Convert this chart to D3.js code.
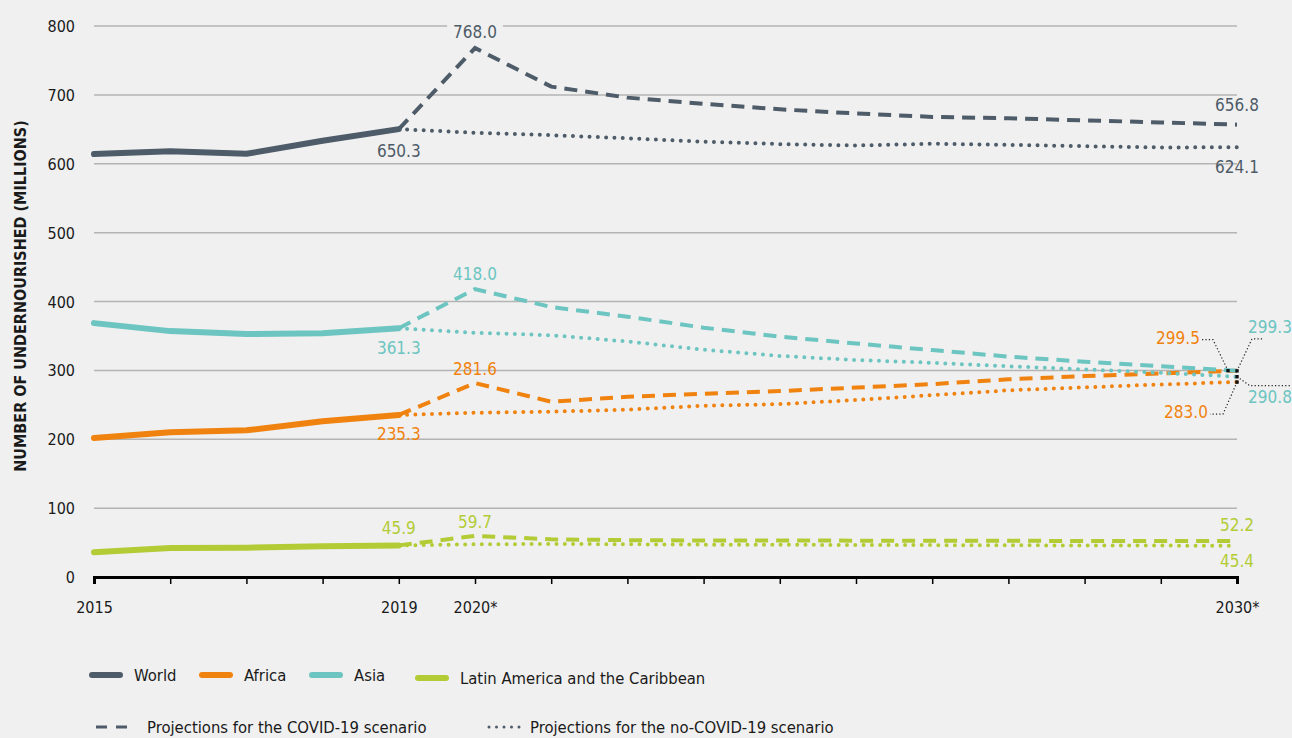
<!DOCTYPE html>
<html lang="en">
<head>
<meta charset="utf-8">
<script src="https://d3js.org/d3.v7.min.js"></script>
<style>
  body { margin: 0; background: #f0f0f0; }
  svg { display: block; }
  text { font-family: "Liberation Sans Narrow", "DejaVu Sans Condensed", "Roboto", sans-serif; }
</style>
</head>
<body>
<svg width="1292" height="738"></svg>
<script>
// ---- data ----
var years = [2015, 2016, 2017, 2018, 2019, 2020, 2021, 2022, 2023, 2024, 2025, 2026, 2027, 2028, 2029, 2030];
var histYears = [2015, 2016, 2017, 2018, 2019];
var projYears = [2019, 2020, 2021, 2022, 2023, 2024, 2025, 2026, 2027, 2028, 2029, 2030];
var yTicks = [0, 100, 200, 300, 400, 500, 600, 700, 800];
var xLabels = { 2015: "2015", 2019: "2019", 2020: "2020*", 2030: "2030*" };

var worldHist = [614, 618, 614.4, 633.3, 650.3];
var worldCovid = [650.3, 768.0, 712, 696, 687, 679, 673, 668, 666, 663, 660, 656.8];
var worldNoCovid = [650.3, 645, 641.5, 637, 632, 628.5, 626.5, 629, 627.5, 625.5, 623.6, 624.1];

var africaHist = [201.7, 210, 213, 226, 235.3];
var africaCovid = [235.3, 281.6, 254.5, 261.7, 266, 270, 275, 280, 287, 291.7, 295.6, 299.5];
var africaNoCovid = [235.3, 238.5, 240, 243, 248.6, 251, 257, 264, 271, 275.3, 279.6, 283.0];

var asiaHist = [368.6, 357, 352.7, 354, 361.3];
var asiaCovid = [361.3, 418.0, 392, 378, 362, 349, 339, 329.5, 320, 312.5, 306, 299.3];
var asiaNoCovid = [361.3, 354.6, 351, 342, 330, 321, 315, 311, 306, 301.4, 296.5, 290.8];

var lacHist = [36, 42, 42.5, 44.5, 45.9];
var lacCovid = [45.9, 59.7, 54.7, 53.5, 53, 53, 52.8, 52.6, 52.5, 52.4, 52.3, 52.2];
var lacNoCovid = [45.9, 47.4, 48, 47.5, 47, 46.8, 46.5, 46.3, 46, 45.8, 45.6, 45.4];

var series = [
  { name: "World", color: "#4e5b68", hist: worldHist, covid: worldCovid, nocovid: worldNoCovid },
  { name: "Africa", color: "#f0830f", hist: africaHist, covid: africaCovid, nocovid: africaNoCovid },
  { name: "Asia", color: "#6cc5c0", hist: asiaHist, covid: asiaCovid, nocovid: asiaNoCovid },
  { name: "Latin America and the Caribbean", color: "#b3cc36", hist: lacHist, covid: lacCovid, nocovid: lacNoCovid }
];

// value labels: [series index, which line, year, vertical offset]
var valueLabels = [
  [0, "hist", 2019, 28], [0, "covid", 2020, -10], [0, "covid", 2030, -14], [0, "nocovid", 2030, 26],
  [2, "hist", 2019, 26], [2, "covid", 2020, -9],
  [1, "hist", 2019, 25], [1, "covid", 2020, -8],
  [3, "hist", 2019, -11], [3, "covid", 2020, -8], [3, "covid", 2030, -10], [3, "nocovid", 2030, 21]
];

var svg = d3.select("svg");
var x = d3.scaleLinear().domain([2015, 2030]).range([94, 1237]);
var y = d3.scaleLinear().domain([0, 800]).range([577, 26]);

// gridlines
svg.append("g")
  .selectAll("line")
  .data(yTicks.filter(function (d) { return d > 0; }))
  .enter().append("line")
  .attr("x1", x(2015)).attr("x2", x(2030))
  .attr("y1", function (d) { return y(d); })
  .attr("y2", function (d) { return y(d); })
  .attr("stroke", "#b4b4b4")
  .attr("stroke-width", 1.5);

// y tick labels
svg.append("g")
  .selectAll("text")
  .data(yTicks)
  .enter().append("text")
  .attr("x", 75)
  .attr("y", function (d) { return y(d) + 6; })
  .attr("text-anchor", "end")
  .attr("font-size", "16px")
  .attr("fill", "#1a1a1a")
  .text(function (d) { return d; });

// y axis title
svg.append("text")
  .attr("transform", "translate(26," + 296 + ") rotate(-90)")
  .attr("text-anchor", "middle")
  .attr("font-size", "16px")
  .attr("font-weight", "bold")
  .attr("fill", "#1a1a1a")
  .text("NUMBER OF UNDERNOURISHED (MILLIONS)");

// x axis
var xAxis = d3.axisBottom(x)
  .tickValues(years)
  .tickSize(7)
  .tickFormat(function (d) { return xLabels[d] || ""; });
var gx = svg.append("g")
  .attr("transform", "translate(0," + y(0) + ")")
  .call(xAxis);
gx.select(".domain").attr("stroke", "#000").attr("stroke-width", 3);
gx.selectAll(".tick line").attr("stroke", "#000").attr("stroke-width", 1.5);
gx.selectAll(".tick text")
  .attr("dy", "1.6em")
  .attr("font-size", "16px")
  .attr("fill", "#1a1a1a")
  .style("font-family", "'Liberation Sans Narrow', 'DejaVu Sans Condensed', Roboto, sans-serif");

// lines
var line = d3.line()
  .x(function (d) { return x(d[0]); })
  .y(function (d) { return y(d[1]); });

function pairs(yrs, vals) {
  return yrs.map(function (yr, i) { return [yr, vals[i]]; });
}

var g = svg.append("g");
series.forEach(function (s) {
  g.append("path")
    .attr("d", line(pairs(projYears, s.nocovid)))
    .attr("fill", "none")
    .attr("stroke", s.color)
    .attr("stroke-width", 4)
    .attr("stroke-linecap", "round")
    .attr("stroke-dasharray", "0,8.3");
  g.append("path")
    .attr("d", line(pairs(projYears, s.covid)))
    .attr("fill", "none")
    .attr("stroke", s.color)
    .attr("stroke-width", 4)
    .attr("stroke-dasharray", "13,8");
  g.append("path")
    .attr("d", line(pairs(histYears, s.hist)))
    .attr("fill", "none")
    .attr("stroke", s.color)
    .attr("stroke-width", 6)
    .attr("stroke-linecap", "round")
    .attr("stroke-linejoin", "round");
});

// value labels
var labelBg = svg.append("g");
var labelG = svg.append("g");
function valueAt(s, which, yr) {
  var yrs = which === "hist" ? histYears : projYears;
  return s[which][yrs.indexOf(yr)];
}
valueLabels.forEach(function (l) {
  var s = series[l[0]];
  var v = valueAt(s, l[1], l[2]);
  var t = labelG.append("text")
    .attr("x", x(l[2]))
    .attr("y", y(v) + l[3])
    .attr("text-anchor", "middle")
    .attr("font-size", "17px")
    .attr("fill", s.color)
    .text(v.toFixed(1));
  if (l[1] === "covid" && l[2] === 2020 && l[0] === 0) {
    // hide gridline behind the peak label
    var bb = t.node().getBBox();
    labelBg.append("rect")
      .attr("x", bb.x - 6).attr("y", bb.y + 2)
      .attr("width", bb.width + 12).attr("height", bb.height - 4)
      .attr("fill", "#f0f0f0");
  }
});

// 2030 callouts for Africa and Asia with dotted leader lines
var callouts = [
  { s: 1, which: "covid", tx: 1178, ty: 338, path: [[-9, 0], [-24, -31], [-37, -31]] },
  { s: 1, which: "nocovid", tx: 1186, ty: 412, path: [[0, 0], [-14, 32], [-27, 32]] },
  { s: 2, which: "covid", tx: 1270, ty: 327, path: [[0, 0], [15, -32], [27, -32]] },
  { s: 2, which: "nocovid", tx: 1270, ty: 397, path: [[0, 0], [13, 9], [53, 9]] }
];
callouts.forEach(function (c) {
  var s = series[c.s];
  var v = s[c.which][projYears.length - 1];
  var px = x(2030), py = y(v);
  var pts = c.path.map(function (p) { return [px + p[0], py + p[1]]; });
  svg.append("path")
    .attr("d", d3.line()(pts))
    .attr("fill", "none")
    .attr("stroke", "#222")
    .attr("stroke-width", 1.2)
    .attr("stroke-dasharray", "1.2,2.2");
  svg.append("rect")
    .attr("x", pts[0][0] - 1.7).attr("y", pts[0][1] - 1.7)
    .attr("width", 3.4).attr("height", 3.4)
    .attr("fill", "#111");
  svg.append("text")
    .attr("x", c.tx)
    .attr("y", c.ty + 6)
    .attr("text-anchor", "middle")
    .attr("font-size", "17px")
    .attr("fill", s.color)
    .text(v.toFixed(1));
});

// legend row 1
var legendX = [92, 202, 312, 418];
var legendY = [675, 675, 675, 678];
series.forEach(function (s, i) {
  svg.append("line")
    .attr("x1", legendX[i]).attr("x2", legendX[i] + 28)
    .attr("y1", legendY[i]).attr("y2", legendY[i])
    .attr("stroke", s.color)
    .attr("stroke-width", 6)
    .attr("stroke-linecap", "round");
  svg.append("text")
    .attr("x", legendX[i] + 42)
    .attr("y", legendY[i] + 6)
    .attr("font-size", "16.5px")
    .attr("fill", "#1a1a1a")
    .text(s.name);
});

// legend row 2
var styleLegend = [
  { label: "Projections for the COVID-19 scenario", x: 96, dash: "11,9", cap: "butt", tx: 147 },
  { label: "Projections for the no-COVID-19 scenario", x: 489, dash: "0,7.5", cap: "round", tx: 530 }
];
styleLegend.forEach(function (d) {
  svg.append("line")
    .attr("x1", d.x).attr("x2", d.x + 31)
    .attr("y1", 727).attr("y2", 727)
    .attr("stroke", "#4e5b68")
    .attr("stroke-width", 3)
    .attr("stroke-linecap", d.cap)
    .attr("stroke-dasharray", d.dash);
  svg.append("text")
    .attr("x", d.tx)
    .attr("y", 733)
    .attr("font-size", "16.5px")
    .attr("fill", "#1a1a1a")
    .text(d.label);
});
</script>
</body>
</html>
